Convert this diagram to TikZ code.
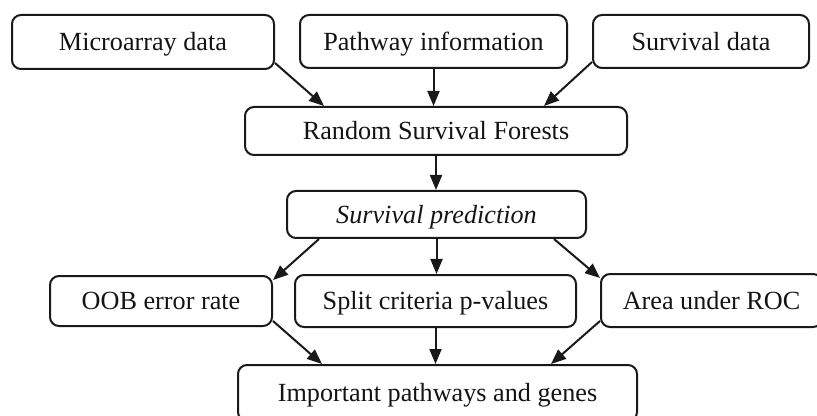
\documentclass[tikz,border=0pt]{standalone}
\usepackage{fontspec}
\setmainfont{Liberation Serif}
\usetikzlibrary{calc,arrows.meta}
\begin{document}
\begin{tikzpicture}[x=0.5pt,y=-0.5pt,
  box/.style={draw=black!90,line width=1pt,rounded corners=4.5pt,inner sep=0pt,
    text height=8.7pt,text depth=0pt,
    font=\fontsize{13.1}{15}\selectfont,text=black!92},
  conn/.style={draw=black!90,line width=1pt,-{Triangle[length=7.5pt,width=6pt]}}]
\useasboundingbox (0,0) rectangle (817,416);
\clip (0,0) rectangle (817,416);
\node[box,minimum width=131pt,minimum height=27pt] (micro) at (143,42) {Microarray data};
\node[box,minimum width=133.5pt,minimum height=26.5pt] (path) at (433.5,41.5) {Pathway information};
\node[box,minimum width=108pt,minimum height=26.5pt] (surv) at (701,41.5) {Survival data};
\node[box,minimum width=191pt,minimum height=24pt] (rsf) at (436,131) {Random Survival Forests};
\node[box,minimum width=149.5pt,minimum height=23.5pt] (sp) at (436.5,214.5) {\itshape Survival prediction};
\node[box,minimum width=111pt,minimum height=25pt] (oob) at (161,301) {OOB error rate};
\node[box,minimum width=140.5pt,minimum height=26pt] (split) at (435.5,301) {Split criteria p-values};
\node[box,minimum width=110.5pt,minimum height=26.5pt] (area) at (711.5,300.5) {Area under ROC};
\node[box,minimum width=199.5pt,minimum height=28pt] (imp) at (437.5,393) {Important pathways and genes};
% connectors
\draw[conn] ($(micro.south east)+(0,-7)$) -- ($(rsf.north west)+(80,0)$);
\draw[conn] (path.south) -- (path.south |- rsf.north);
\draw[conn] ($(surv.south west)+(0,-7)$) -- ($(rsf.north west)+(300,0)$);
\draw[conn] (rsf.south) -- (rsf.south |- sp.north);
\draw[conn] ($(sp.south west)+(33,0)$) -- ($(oob.north east)+(0,5)$);
\draw[conn] (sp.south) -- (sp.south |- split.north);
\draw[conn] ($(sp.south east)+(-33,0)$) -- ($(area.north west)+(0,5)$);
\draw[conn] ($(oob.south east)+(0,-6)$) -- ($(imp.north west)+(85,0)$);
\draw[conn] (split.south) -- (split.south |- imp.north);
\draw[conn] ($(area.south west)+(0,-7)$) -- ($(imp.north west)+(314,0)$);
\end{tikzpicture}
\end{document}
